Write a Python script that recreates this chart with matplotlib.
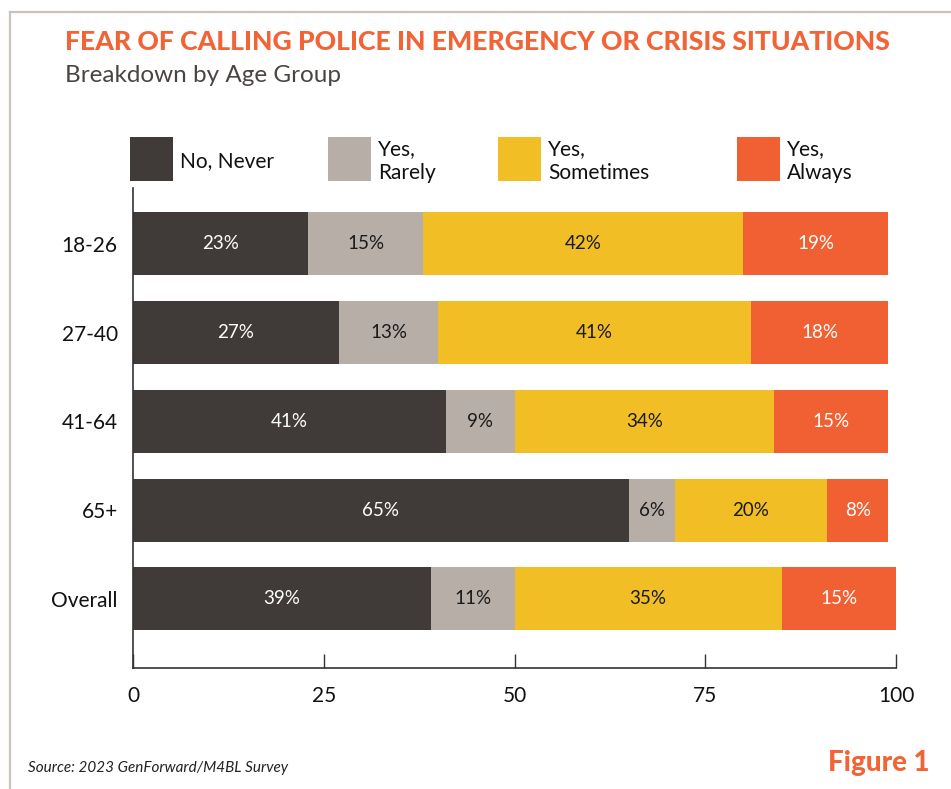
import matplotlib
matplotlib.use("Agg")
import matplotlib.pyplot as plt
from matplotlib.patches import Rectangle
from matplotlib.lines import Line2D

# survey shares (%) by age group
groups = ["18-26", "27-40", "41-64", "65+", "Overall"]
series = ["No, Never", "Yes,\nRarely", "Yes,\nSometimes", "Yes,\nAlways"]
no_never = [23, 27, 41, 65, 39]
yes_rarely = [15, 13, 9, 6, 11]
yes_sometimes = [42, 41, 34, 20, 35]
yes_always = [19, 18, 15, 8, 15]
xticks = [0, 25, 50, 75, 100]

colors = ["#403B38", "#B8AEA8", "#F1BE26", "#F16032"]
text_colors = ["white", "#1a1a1a", "#1a1a1a", "white"]
ORANGE = "#F26436"
FONT = ["Lato", "DejaVu Sans"]

plt.rcParams["font.family"] = FONT

fig = plt.figure(figsize=(9.51, 7.89), dpi=100)
W, H = 951, 789


def fx(px):
    return px / W


def fy(py):
    return 1 - py / H


# outer frame (top and left edge only)
fig.add_artist(Line2D([fx(10), 1.0], [fy(12), fy(12)], color="#C9C3BD", lw=1.6))
fig.add_artist(Line2D([fx(10), fx(10)], [fy(12), 0.0], color="#C9C3BD", lw=1.6))

fig.text(fx(65), fy(42), "FEAR OF CALLING POLICE IN EMERGENCY OR CRISIS SITUATIONS",
         color=ORANGE, fontsize=19.1, fontweight="black", va="center", ha="left",
         family=["Lato", "DejaVu Sans"])
fig.text(fx(65), fy(76), "Breakdown by Age Group", color="#4A4542",
         fontsize=17.5, va="center", ha="left")

# legend drawn by hand: swatch + two-line label
legend_x = [130, 328, 498, 737]
for x0, lab, c in zip(legend_x, series, colors):
    fig.add_artist(Rectangle((fx(x0), fy(181)), fx(43), 44 / H,
                             transform=fig.transFigure, color=c, lw=0))
    fig.text(fx(x0 + 50), fy(161), lab, fontsize=15, va="center", ha="left",
             color="#111111", linespacing=1.2)

ax = fig.add_axes([fx(133), fy(668), fx(896) - fx(133), (668 - 188) / H])

ypos = list(range(len(groups)))
left = [0] * len(groups)
for vals, c, tc in zip([no_never, yes_rarely, yes_sometimes, yes_always], colors, text_colors):
    bars = ax.barh(ypos, vals, left=left, height=0.71, color=c, lw=0)
    ax.bar_label(bars, labels=[f"{v}%" for v in vals], label_type="center",
                 color=tc, fontsize=13.5)
    left = [l + v for l, v in zip(left, vals)]

ax.set_xlim(0, 100)
ax.set_ylim(4.78, -0.63)
ax.set_yticks(ypos)
ax.set_yticklabels(groups, fontsize=15, color="#111111")
ax.set_xticks(xticks)
ax.set_xticklabels([str(t) for t in xticks], fontsize=15, color="#111111")
ax.tick_params(axis="y", length=0, pad=11)
ax.tick_params(axis="x", direction="in", length=10, width=1, color="#333333", pad=13)
for s in ["top", "right"]:
    ax.spines[s].set_visible(False)
for s in ["left", "bottom"]:
    ax.spines[s].set_color("#333333")
    ax.spines[s].set_linewidth(1.2)

fig.text(fx(28), fy(768), "Source: 2023 GenForward/M4BL Survey", fontsize=11,
         style="italic", color="#222222", va="center", ha="left")
fig.text(fx(929), fy(763), "Figure 1", fontsize=20, fontweight="black", color=ORANGE,
         va="center", ha="right")

fig.savefig("out.png", dpi=100)
